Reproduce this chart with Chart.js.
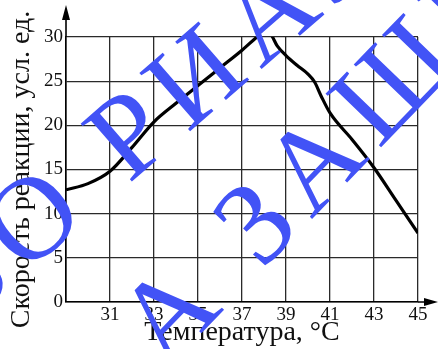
<!DOCTYPE html>
<html>
<head>
<meta charset="utf-8">
<script src="https://cdn.jsdelivr.net/npm/chart.js@4"></script>
<style>
  html, body { margin: 0; padding: 0; background: #fff; }
  #wrap { width: 438px; height: 349px; }
</style>
</head>
<body>
<div id="wrap"><canvas id="chart" width="438" height="349"></canvas></div>
<script>
// values
const temps = [29, 30, 31, 32, 33, 34, 35, 36, 37, 37.5, 38, 38.3, 38.6, 39, 39.5, 40, 40.3, 40.6, 41, 42, 43, 44, 45];
const rates = [12.7, 13.4, 14.8, 17.5, 20.4, 22.5, 24.5, 26.5, 28.5, 29.6, 30.5, 30.3, 29.0, 27.9, 26.8, 25.8, 24.9, 23.3, 21.4, 18.4, 15.2, 11.5, 7.8];
const xTicks = [29, 31, 33, 35, 37, 39, 41, 43, 45];
const yTicks = [0, 5, 10, 15, 20, 25, 30];
const xTitle = 'Температура, °С';
const yTitle = 'Скорость реакции, усл. ед.';

const serif = '"Liberation Serif", "Times New Roman", serif';
const ink = '#111';

// arrows at the end of both axes
const axisArrows = {
  id: 'axisArrows',
  afterDraw(chart) {
    const { ctx, chartArea: a } = chart;
    ctx.save();
    ctx.strokeStyle = '#000';
    ctx.fillStyle = '#000';
    ctx.lineWidth = 1.6;
    ctx.beginPath();
    ctx.moveTo(a.left, a.top);
    ctx.lineTo(a.left, 14);
    ctx.moveTo(a.right, a.bottom);
    ctx.lineTo(430, a.bottom);
    ctx.stroke();
    ctx.beginPath();
    ctx.moveTo(a.left, 5);
    ctx.lineTo(a.left - 4, 20);
    ctx.lineTo(a.left + 4, 20);
    ctx.closePath();
    ctx.moveTo(438, a.bottom);
    ctx.lineTo(424, a.bottom - 4);
    ctx.lineTo(424, a.bottom + 4);
    ctx.closePath();
    ctx.fill();
    ctx.restore();
  }
};

// blue diagonal watermark over the picture
const watermark = {
  id: 'watermark',
  afterDraw(chart) {
    const ctx = chart.ctx;
    const lines = [
      { text: 'ЗО РИАЛ', anchor: 1, x: 36, y: 224, angle: -41 },
      { text: 'А ЗАЩИ', anchor: 2, x: 260, y: 228, angle: -46 }
    ];
    ctx.save();
    ctx.font = '118px ' + serif;
    ctx.fillStyle = '#4253f6';
    ctx.textBaseline = 'middle';
    ctx.textAlign = 'left';
    const gap = 12;
    lines.forEach(l => {
      const chars = Array.from(l.text);
      const widths = chars.map(c => ctx.measureText(c).width);
      let off = widths[l.anchor] / 2;
      for (let i = 0; i < l.anchor; i++) off += widths[i] + gap;
      ctx.save();
      ctx.translate(l.x, l.y);
      ctx.rotate(l.angle * Math.PI / 180);
      let cx = -off;
      chars.forEach((c, i) => {
        ctx.fillText(c, cx, 0);
        cx += widths[i] + gap;
      });
      ctx.restore();
    });
    ctx.restore();
  }
};

new Chart(document.getElementById('chart'), {
  type: 'line',
  data: {
    datasets: [
      {
        data: temps.map((t, i) => ({ x: t, y: rates[i] })),
        borderColor: '#000',
        borderWidth: 3.2,
        pointRadius: 0,
        cubicInterpolationMode: 'monotone',
        fill: false,
      },
    ],
  },
  options: {
    responsive: false,
    animation: false,
    devicePixelRatio: 1,
    layout: { padding: { left: 0, right: 20, top: 37, bottom: 0 } },
    plugins: {
      legend: { display: false },
      tooltip: { enabled: false },
    },
    scales: {
      x: {
        type: 'linear',
        min: xTicks[0],
        max: xTicks[xTicks.length - 1],
        afterFit: s => { s.height = 47; },
        afterBuildTicks: s => { s.ticks = xTicks.map(v => ({ value: v })); },
        ticks: {
          color: ink,
          padding: 2,
          font: { family: serif, size: 19 },
          callback: v => (v === xTicks[0] ? '' : v),
          maxRotation: 0,
          autoSkip: false,
        },
        grid: { color: '#2a2a2a', lineWidth: 1.3, drawTicks: false },
        border: { color: '#000', width: 1.6 },
        title: {
          display: true,
          text: xTitle,
          color: ink,
          font: { family: serif, size: 28 },
          padding: { top: 0, bottom: 0 },
        },
      },
      y: {
        min: yTicks[0],
        max: yTicks[yTicks.length - 1],
        afterFit: s => { s.width = 66; },
        afterBuildTicks: s => { s.ticks = yTicks.map(v => ({ value: v })); },
        ticks: {
          color: ink,
          padding: 3,
          font: { family: serif, size: 19 },
        },
        grid: { color: '#2a2a2a', lineWidth: 1.3, drawTicks: false },
        border: { color: '#000', width: 1.6 },
        title: {
          display: true,
          text: yTitle,
          color: ink,
          font: { family: serif, size: 28 },
          padding: { top: 5, bottom: 0 },
        },
      },
    },
  },
  plugins: [axisArrows, watermark],
});
</script>
</body>
</html>
